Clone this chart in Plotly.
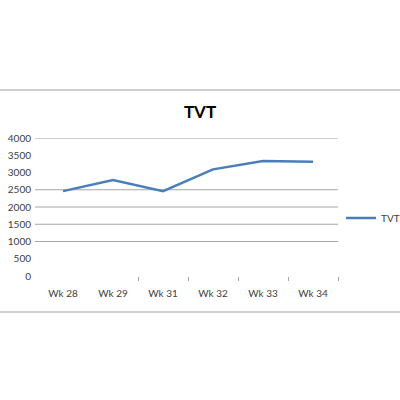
import plotly.graph_objects as go

weeks = ["Wk 28", "Wk 29", "Wk 31", "Wk 32", "Wk 33", "Wk 34"]
tvt = [2460, 2780, 2460, 3090, 3330, 3310]
y_ticks = [0, 500, 1000, 1500, 2000, 2500, 3000, 3500, 4000]
grid_values = [1000, 1500, 2000, 2500, 4000]
boundary_ticks = [1.5, 2.5, 3.5, 4.5, 5.5]

L, R, T, B = 38, 62, 138, 124
PW, PH = 400 - L - R, 400 - T - B

def px_to_paper_x(px):
    return (px - L) / PW

def px_to_paper_y(py):
    return (400 - B - py) / PH

fig = go.Figure()
fig.add_trace(go.Scatter(
    x=weeks, y=tvt, mode="lines", name="TVT",
    line=dict(color="#4A7EBB", width=2.5),
))
# invisible helper trace for the boundary tick axis
fig.add_trace(go.Scatter(x=[-0.5, 5.5], y=[None, None], xaxis="x2", showlegend=False,
                         hoverinfo="skip", mode="lines"))

shapes = []
for g in grid_values:
    shapes.append(dict(type="line", xref="paper", yref="y",
                       x0=px_to_paper_x(35), x1=1.0, y0=g, y1=g,
                       line=dict(color="#A6A6A6", width=1.2), layer="below"))
for py in (90, 312):
    shapes.append(dict(type="line", xref="paper", yref="paper",
                       x0=px_to_paper_x(0), x1=px_to_paper_x(400),
                       y0=px_to_paper_y(py), y1=px_to_paper_y(py),
                       line=dict(color="#A0A0A0", width=1.2)))

fig.update_layout(
    width=400, height=400, autosize=False,
    margin=dict(l=L, r=R, t=T, b=B, autoexpand=False),
    paper_bgcolor="white", plot_bgcolor="white",
    title=dict(text="<b>TVT</b>", x=0.5, xref="container", xanchor="center",
               y=1 - 112 / 400, yref="container", yanchor="middle",
               font=dict(family="Lato, Open Sans, sans-serif", size=17, color="#000000")),
    font=dict(family="Lato, Open Sans, sans-serif", size=10, color="#404040"),
    showlegend=True,
    legend=dict(x=px_to_paper_x(341), y=px_to_paper_y(218), xanchor="left", yanchor="middle",
                font=dict(size=10, color="#404040"), itemwidth=30,
                bgcolor="rgba(0,0,0,0)"),
    xaxis=dict(type="category", showgrid=False, showline=False, zeroline=False,
               ticks="", ticklabelstandoff=10,
               tickfont=dict(size=10, color="#404040"), range=[-0.5, 5.5]),
    xaxis2=dict(overlaying="x", anchor="y", side="bottom", range=[-0.5, 5.5],
                tickvals=boundary_ticks, ticks="outside", ticklen=4, tickcolor="#A6A6A6",
                showticklabels=False, showgrid=False, zeroline=False, showline=False),
    yaxis=dict(range=[0, 4000], tickvals=y_ticks, showgrid=False, zeroline=False,
               showline=False, ticks="", ticklabelstandoff=6,
               tickfont=dict(size=10, color="#404040")),
    shapes=shapes,
)

fig.write_html(
    "out.html",
    config={"responsive": False, "displayModeBar": False},
    post_script="document.body.style.margin='0';document.body.style.overflow='hidden';",
)
